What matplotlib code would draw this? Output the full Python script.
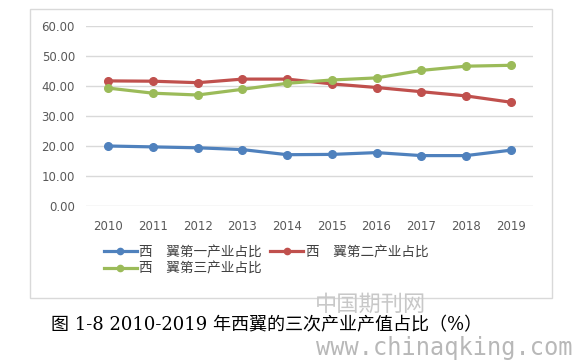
import matplotlib.pyplot as plt
from matplotlib.patches import Rectangle
from matplotlib.lines import Line2D

plt.rcParams['font.family'] = ['Noto Sans CJK SC', 'DejaVu Sans']

years = ['2010', '2011', '2012', '2013', '2014', '2015', '2016', '2017', '2018', '2019']
primary = [20.0, 19.7, 19.4, 18.8, 17.1, 17.2, 17.8, 16.8, 16.8, 18.6]
secondary = [41.7, 41.6, 41.1, 42.3, 42.3, 40.7, 39.5, 38.1, 36.7, 34.6]
tertiary = [39.3, 37.6, 37.0, 38.9, 40.9, 42.0, 42.7, 45.2, 46.6, 46.9]
labels = ['西\u3000翼第一产业占比', '西\u3000翼第二产业占比', '西\u3000翼第三产业占比']
colors = ['#4f81bd', '#c0504d', '#9bbb59']

W, H = 573, 360
fig = plt.figure(figsize=(W / 100, H / 100), dpi=100)

# chart frame
fig.patches.append(Rectangle((30 / W, 1 - 298 / H), 522 / W, 289 / H,
                             transform=fig.transFigure, fill=False,
                             edgecolor='#d9d9d9', linewidth=1))

ax = fig.add_axes([86 / W, 1 - 206 / H, 447 / W, 180 / H])
x = range(len(years))
for vals, c in zip([primary, secondary, tertiary], colors):
    ax.plot(x, vals, color=c, linewidth=2.3, marker='o', markersize=5.5,
            solid_capstyle='round')

ax.set_xlim(-0.5, len(years) - 0.5)
ax.set_ylim(0, 60)
ax.set_yticks(range(0, 61, 10))
ax.set_yticklabels(['%.2f' % v for v in range(0, 61, 10)])
ax.set_xticks(list(x))
ax.set_xticklabels(years)
ax.grid(axis='y', color='#d9d9d9', linewidth=1)
ax.set_axisbelow(True)
for s in ax.spines.values():
    s.set_visible(False)
ax.tick_params(length=0, labelsize=8.5, colors='#595959', pad=8)
ax.tick_params(axis='x', pad=10)
for t in ax.get_xticklabels() + ax.get_yticklabels():
    t.set_family('DejaVu Sans')

# legend filled row by row: first, second / third
handles = [Line2D([], [], color=c, linewidth=2.3, marker='o', markersize=4.5)
           for c in colors]
order = [0, 2, 1]
fig.legend([handles[i] for i in order], [labels[i] for i in order],
           loc='upper left', bbox_to_anchor=(104 / W, 1 - 245 / H),
           ncol=2, frameon=False, fontsize=9.8, handlelength=2.4,
           handletextpad=0.2, columnspacing=0.6, labelspacing=0.2,
           borderaxespad=0, borderpad=0, labelcolor='#404040')

# watermark
fig.text(370 / W, 1 - 304 / H, '中国期刊网', fontsize=16, color='#c8c8c8',
         ha='center', va='center')
fig.text(573 / W, 1 - 348 / H, 'www.chinaqking.com', fontsize=17, color='#b8b8b8',
         ha='right', va='center', family=['DejaVu Sans Mono', 'DejaVu Sans'])

fig.text(267 / W, 1 - 325 / H, '图 1-8 2010-2019 年西翼的三次产业产值占比（%）',
         fontsize=13, color='black', ha='center', va='center',
         family=['DejaVu Serif', 'Noto Sans CJK SC'])

fig.savefig('out.png', dpi=100, facecolor='white')
